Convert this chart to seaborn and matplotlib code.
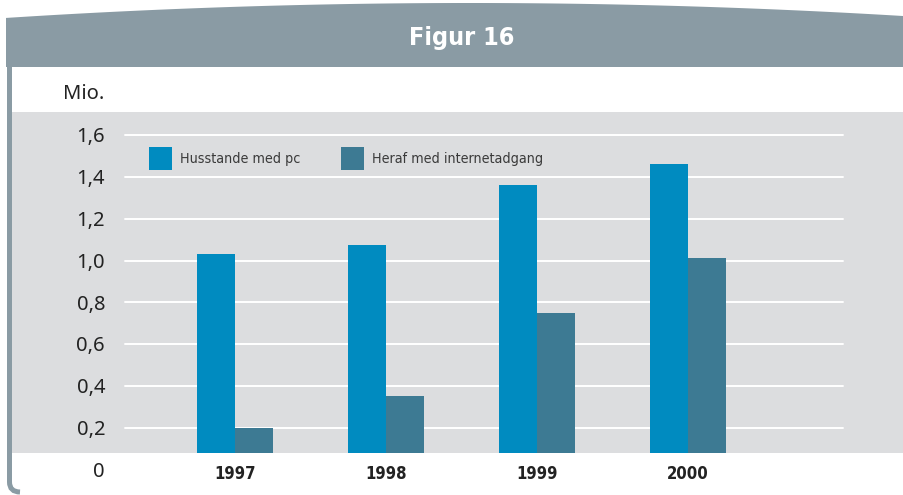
import numpy as np
import pandas as pd
import seaborn as sns
import matplotlib.pyplot as plt
from matplotlib.patches import Polygon, Rectangle, PathPatch
from matplotlib.path import Path
from matplotlib.transforms import offset_copy

# Data (millions of households)
years = ["1997", "1998", "1999", "2000"]
pc_households = [1.03, 1.075, 1.36, 1.46]
internet_households = [0.20, 0.35, 0.75, 1.01]
series_names = ["Husstande med pc", "Heraf med internetadgang"]
y_ticks = [0.2, 0.4, 0.6, 0.8, 1.0, 1.2, 1.4, 1.6]
y_tick_labels = ["0,2", "0,4", "0,6", "0,8", "1,0", "1,2", "1,4", "1,6"]

PC_BLUE = "#008bc0"
NET_TEAL = "#3d7a93"
PANEL = "#dcdddf"
FRAME = "#8a9ba4"
TEXT = "#222222"

df = pd.DataFrame({
    "year": years * 2,
    "value": pc_households + internet_households,
    "series": [series_names[0]] * 4 + [series_names[1]] * 4,
})

sns.set_theme(style="white")
plt.rcParams["font.family"] = ["Noto Sans", "DejaVu Sans"]
narrow = ["DejaVu Sans"]

W, H = 904, 495
fig = plt.figure(figsize=(W / 100, H / 100), dpi=100)

# background layer in pixel coords
bg = fig.add_axes([0, 0, 1, 1])
bg.set_xlim(0, W)
bg.set_ylim(H, 0)
bg.axis("off")

# header with curved top
xs = np.linspace(6, W, 200)
top = 3 + 15 * ((xs - 470) / 465) ** 2
header = list(zip(xs, top)) + [(W, 67), (6, 67)]
bg.add_patch(Polygon(header, closed=True, color=FRAME, lw=0))
bg.text(462, 38, "Figur 16", color="white", fontsize=18, fontweight="bold",
        fontstretch="condensed", ha="center", va="center", family=narrow)

# left frame line with rounded bottom corner
frame = Path([(9.5, 67), (9.5, 482), (9.5, 492), (20, 492)],
             [Path.MOVETO, Path.LINETO, Path.CURVE3, Path.CURVE3])
bg.add_patch(PathPatch(frame, fill=False, color=FRAME, lw=3.6))

bg.text(104, 94, "Mio.", ha="right", va="center", fontsize=14.5, color=TEXT)

# main plot panel
ax = fig.add_axes([12 / W, (H - 452.7) / H, (W - 12) / W, (452.7 - 112) / H])
ax.set_facecolor(PANEL)

sns.barplot(data=df, x="year", y="value", hue="series", hue_order=series_names,
            palette=[PC_BLUE, NET_TEAL], width=0.503, saturation=1,
            linewidth=0, legend=False, ax=ax, zorder=3)

for v in y_ticks:
    ax.axhline(v, xmin=0.1267, xmax=0.932, color="white", lw=1.4, zorder=1)

ax.set_xlim(-1.477, 4.43)
ax.set_ylim(0.08, 1.711)
for s in ax.spines.values():
    s.set_visible(False)
ax.set_yticks([])
ax.set_xlabel("")
ax.set_ylabel("")
ax.tick_params(axis="x", length=0, pad=8.5, labelsize=12, labelcolor=TEXT)
for lbl in ax.get_xticklabels():
    lbl.set_fontweight("bold")
    lbl.set_fontstretch("condensed")
    lbl.set_family(narrow)

# y labels, baseline sits ~7px below each gridline
ytrans = offset_copy(ax.get_yaxis_transform(), fig=fig, y=-7.3, units="dots")
for v, lab in zip([0] + y_ticks, ["0"] + y_tick_labels):
    ax.text(0.1043, v, lab, transform=ytrans, ha="right", va="baseline",
            fontsize=14.5, color=TEXT, clip_on=False)

# legend, drawn on top of the panel
for x0, name, col in [(149, series_names[0], PC_BLUE), (341, series_names[1], NET_TEAL)]:
    ax.add_patch(Rectangle((x0, 147), 23, 23, color=col, lw=0,
                           transform=bg.transData, clip_on=False, zorder=5))
    ax.text(x0 + 31, 158.5, name, ha="left", va="center", fontsize=10.3,
            fontstretch="condensed", color="#3a3a3a", family=narrow,
            transform=bg.transData, zorder=5)

fig.savefig("out.png", dpi=100)
